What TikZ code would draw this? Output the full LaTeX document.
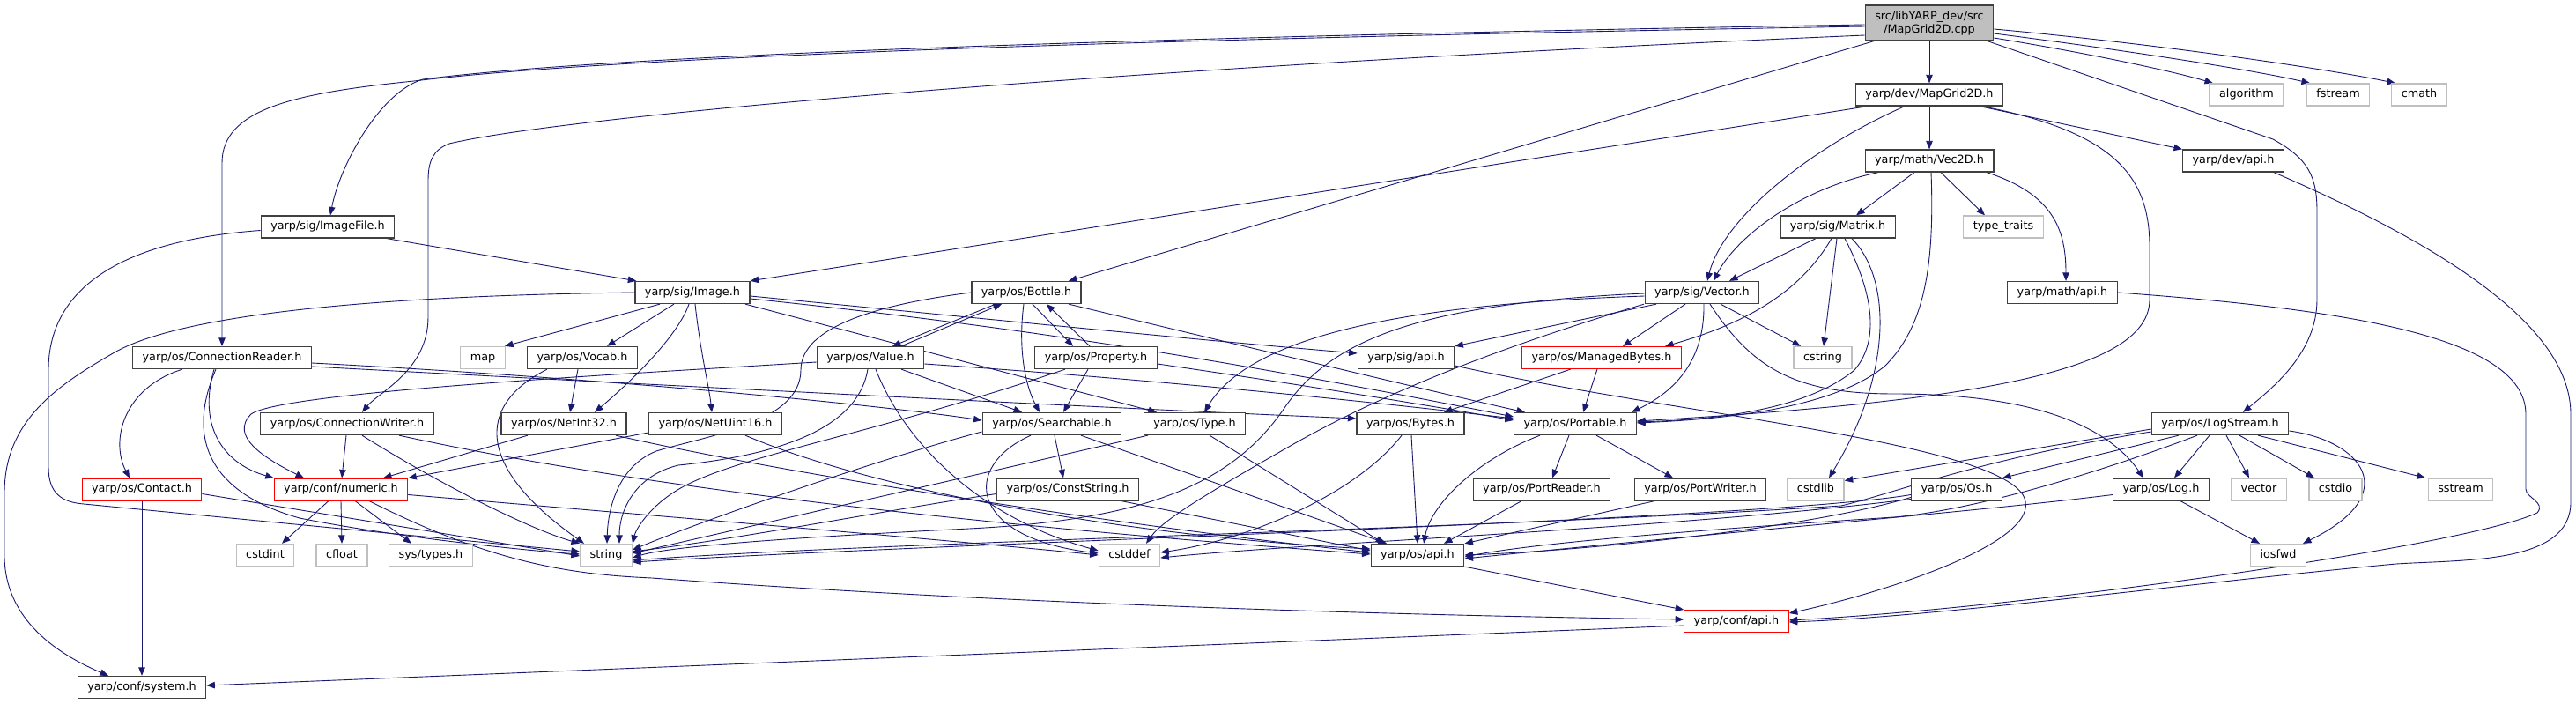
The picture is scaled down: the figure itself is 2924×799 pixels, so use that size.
\documentclass[tikz,border=0pt]{standalone}
\usepackage{fontspec}
\setmainfont{DejaVu Sans}
\usetikzlibrary{arrows.meta}
\definecolor{eblue}{RGB}{25,25,112}
\definecolor{lgray}{RGB}{191,191,191}
\definecolor{dgray}{RGB}{64,64,64}
\pgfdeclarelayer{edges}
\pgfsetlayers{edges,main}
\begin{document}
\begin{tikzpicture}[x=1pt,y=-1pt,
  font=\fontsize{12.8}{15}\selectfont,
  nd/.style={draw=dgray, fill=white, line width=1.3pt, minimum height=25pt, inner xsep=11pt, inner ysep=0pt, text height=9.3pt, text depth=2.9pt, text=black},
  ns/.style={nd, draw=lgray},
  nr/.style={nd, draw=red, line width=1pt},
  e/.style={draw=eblue, line width=0.9pt, -{Triangle[length=9.5pt,width=7.5pt]}}]
\useasboundingbox (0,0) rectangle (2924,799);
% row 0
\node[nd, fill=lgray, align=center, minimum height=40pt, text height=, text depth=, inner ysep=2pt] (root) at (2190,26) {src/libYARP\_dev/src\\/MapGrid2D.cpp};
% row 1
\node[nd] (mapgrid) at (2190,107.5) {yarp/dev/MapGrid2D.h};
\node[ns] (algorithm) at (2550,107.5) {algorithm};
\node[ns] (fstream) at (2654,107.5) {fstream};
\node[ns] (cmath) at (2746,107.5) {cmath};
% row 2
\node[nd] (vec2d) at (2190,182.5) {yarp/math/Vec2D.h};
\node[nd] (devapi) at (2535,182.5) {yarp/dev/api.h};
% row 3
\node[nd] (imagefile) at (372,257.5) {yarp/sig/ImageFile.h};
\node[nd] (matrix) at (2086,257.5) {yarp/sig/Matrix.h};
\node[ns] (typetraits) at (2274,257.5) {type\_traits};
% row 4
\node[nd] (image) at (786,332) {yarp/sig/Image.h};
\node[nd] (bottle) at (1165,332) {yarp/os/Bottle.h};
\node[nd] (vector) at (1932,332) {yarp/sig/Vector.h};
\node[nd] (mathapi) at (2341,332) {yarp/math/api.h};
% row 5
\node[nd] (connreader) at (252,406) {yarp/os/ConnectionReader.h};
\node[ns] (map) at (548,406) {map};
\node[nd] (vocab) at (661,406) {yarp/os/Vocab.h};
\node[nd] (value) at (988,406) {yarp/os/Value.h};
\node[nd] (property) at (1244,406) {yarp/os/Property.h};
\node[nd] (sigapi) at (1596,406) {yarp/sig/api.h};
\node[nr] (managed) at (1818,406) {yarp/os/ManagedBytes.h};
\node[ns] (cstring) at (2069,406) {cstring};
% row 6
\node[nd] (connwriter) at (394,481) {yarp/os/ConnectionWriter.h};
\node[nd] (netint32) at (640,481) {yarp/os/NetInt32.h};
\node[nd] (netuint16) at (812,481) {yarp/os/NetUint16.h};
\node[nd] (searchable) at (1194,481) {yarp/os/Searchable.h};
\node[nd] (type) at (1356,481) {yarp/os/Type.h};
\node[nd] (bytes) at (1601,481) {yarp/os/Bytes.h};
\node[nd] (portable) at (1788,481) {yarp/os/Portable.h};
\node[nd] (logstream) at (2520,481) {yarp/os/LogStream.h};
% row 7
\node[nr] (contact) at (161,555.5) {yarp/os/Contact.h};
\node[nr] (numeric) at (387,555.5) {yarp/conf/numeric.h};
\node[nd] (conststring) at (1212,555.5) {yarp/os/ConstString.h};
\node[nd] (portreader) at (1750,555.5) {yarp/os/PortReader.h};
\node[nd] (portwriter) at (1930,555.5) {yarp/os/PortWriter.h};
\node[ns] (cstdlib) at (2061,555.5) {cstdlib};
\node[nd] (os) at (2221,555.5) {yarp/os/Os.h};
\node[nd] (log) at (2453,555.5) {yarp/os/Log.h};
\node[ns] (vectorstd) at (2564,555.5) {vector};
\node[ns] (cstdio) at (2651,555.5) {cstdio};
\node[ns] (sstream) at (2793,555.5) {sstream};
% row 8
\node[ns] (cstdint) at (301,630) {cstdint};
\node[ns] (cfloat) at (388,630) {cfloat};
\node[ns] (systypes) at (489,630) {sys/types.h};
\node[ns] (string) at (688,630) {string};
\node[ns] (cstddef) at (1282,630) {cstddef};
\node[nd] (osapi) at (1609,630) {yarp/os/api.h};
\node[ns] (iosfwd) at (2586,630) {iosfwd};
% row 9-10
\node[nr] (confapi) at (1971,705) {yarp/conf/api.h};
\node[nd] (system) at (161,780) {yarp/conf/system.h};

\begin{pgfonlayer}{edges}
% root
\draw[e] (root.south) -- (mapgrid.north);
\draw[e] ([yshift=-17]root.east) .. controls (2380,62) and (2470,82) .. ([xshift=-38]algorithm.north);
\draw[e] ([yshift=-12]root.east) .. controls (2420,58) and (2560,80) .. ([xshift=-32]fstream.north);
\draw[e] ([yshift=-7]root.east) .. controls (2450,50) and (2640,78) .. ([xshift=-27]cmath.north);
\draw[e] ([xshift=66]root.south) -- (2580,158) .. controls (2620,180) and (2630,200) .. (2630,240) -- (2630,340) .. controls (2630,400) and (2580,440) .. ([xshift=26]logstream.north);
\draw[e] ([xshift=-63]root.south) -- ([xshift=48]bottle.north);
\draw[e] ([yshift=-2]root.west) .. controls (1300,42) and (700,62) .. (480,90) .. controls (430,105) and (385,190) .. ([xshift=3]imagefile.north);
\draw[e] ([yshift=-4]root.west) .. controls (1300,44) and (700,64) .. (470,92) .. controls (330,106) and (252,125) .. (252,185) -- (connreader.north);
\draw[e] ([yshift=-14]root.west) .. controls (1300,75) and (650,130) .. (510,163) .. controls (492,170) and (486,182) .. (486,205) -- (486,360) .. controls (486,420) and (430,445) .. ([xshift=17]connwriter.north);
% mapgrid
\draw[e] (mapgrid.south) -- (vec2d.north);
\draw[e] ([xshift=-70]mapgrid.south) -- (image.north east);
\draw[e] ([xshift=-28]mapgrid.south) .. controls (2050,170) and (1955,250) .. ([xshift=6]vector.north);
\draw[e] ([xshift=57]mapgrid.south) -- ([xshift=-58]devapi.north);
\draw[e] ([xshift=60]mapgrid.south) .. controls (2400,150) and (2440,200) .. (2440,280) -- (2440,340) .. controls (2440,420) and (2250,455) .. ([yshift=3]portable.east);
% vec2d
\draw[e] ([xshift=-17]vec2d.south) -- ([xshift=21]matrix.north);
\draw[e] ([xshift=-58]vec2d.south) .. controls (2040,215) and (1970,270) .. ([xshift=13]vector.north);
\draw[e] ([xshift=13]vec2d.south) -- ([xshift=-21]typetraits.north);
\draw[e] ([xshift=65]vec2d.south) .. controls (2330,220) and (2345,260) .. ([xshift=4]mathapi.north);
\draw[e] ([xshift=2]vec2d.south) .. controls (2196,300) and (2185,370) .. (2140,415) .. controls (2080,465) and (1950,476) .. ([yshift=1]portable.east);
% api chains
\draw[e] ([xshift=46]devapi.south) .. controls (2800,290) and (2918,380) .. (2918,470) -- (2918,570) .. controls (2918,640) and (2800,635) .. (2720,640) .. controls (2500,660) and (2200,700) .. ([yshift=-1]confapi.east);
\draw[e] (mathapi.east) .. controls (2650,350) and (2867,380) .. (2867,470) -- (2867,555) .. controls (2867,565) and (2890,570) .. (2880,582) .. controls (2800,620) and (2300,690) .. ([yshift=1]confapi.east);
% imagefile
\draw[e] ([xshift=67]imagefile.south) -- ([xshift=2]image.north west);
\draw[e] ([yshift=-4]imagefile.west) .. controls (150,272) and (55,320) .. (55,420) -- (55,530) .. controls (55,560) and (70,570) .. (95,572) -- ([yshift=4]string.west);
% image
\draw[e] (image.west) .. controls (400,336) and (200,360) .. (130,400) .. controls (60,440) and (5,480) .. (5,560) -- (5,630) .. controls (5,700) and (60,740) .. ([xshift=-38]system.north);
\draw[e] ([xshift=-37]image.south) -- ([xshift=25]map.north);
\draw[e] ([xshift=-21]image.south) -- ([xshift=28]vocab.north);
\draw[e] ([xshift=-4]image.south) .. controls (770,380) and (720,430) .. ([xshift=35]netint32.north);
\draw[e] ([xshift=3]image.south) .. controls (795,400) and (805,440) .. ([xshift=-4]netuint16.north);
\draw[e] ([xshift=60]image.south) -- ([xshift=-43]type.north);
\draw[e] ([yshift=-4]image.east) .. controls (1100,360) and (1350,385) .. ([yshift=5]sigapi.west);
\draw[e] ([yshift=-7]image.east) .. controls (1200,375) and (1450,420) .. ([yshift=8]portable.west);
% bottle
\draw[e] ([xshift=-35]bottle.south) -- ([xshift=25]value.north);
\draw[e] ([xshift=35]value.north) -- ([xshift=-28]bottle.south);
\draw[e] ([xshift=7]bottle.south) -- ([xshift=-26]property.north);
\draw[e] ([xshift=-7]property.north) -- ([xshift=23]bottle.south);
\draw[e] ([xshift=-3]bottle.south) .. controls (1155,400) and (1165,440) .. ([xshift=-14]searchable.north);
\draw[e] ([xshift=48]bottle.south) .. controls (1400,390) and (1650,450) .. ([xshift=-57]portable.north);
\draw[e] (bottle.west) .. controls (1000,345) and (909,370) .. (909,420) .. controls (909,480) and (800,495) .. (745,512) .. controls (700,530) and (690,580) .. ([xshift=1]string.north);
% value
\draw[e] ([yshift=-5]value.west) .. controls (700,425) and (320,445) .. (285,470) .. controls (260,495) and (300,520) .. ([xshift=-42]numeric.north);
\draw[e] ([xshift=35]value.south) -- ([xshift=-34]searchable.north);
\draw[e] ([yshift=-7]value.east) .. controls (1300,430) and (1550,455) .. ([yshift=6]portable.west);
\draw[e] ([xshift=-3]value.south) .. controls (975,480) and (900,515) .. (770,528) .. controls (720,540) and (703,580) .. ([xshift=15]string.north);
\draw[e] ([xshift=6]value.south) .. controls (1030,510) and (1120,590) .. ([yshift=5]cstddef.west);
% property
\draw[e] ([xshift=-9]property.south) -- ([xshift=13]searchable.north);
\draw[e] ([xshift=-35]property.south) .. controls (1000,490) and (850,515) .. (780,550) .. controls (740,570) and (722,600) .. (string.north east);
\draw[e] ([yshift=-7]property.east) .. controls (1500,440) and (1620,460) .. ([yshift=4]portable.west);
% searchable
\draw[e] ([xshift=3]searchable.south) -- ([xshift=-5]conststring.north);
\draw[e] ([xshift=-24]searchable.south) .. controls (1090,530) and (1100,610) .. ([yshift=2]cstddef.west);
\draw[e] ([xshift=33]searchable.south) -- ([xshift=-35]osapi.north);
\draw[e] ([yshift=-9]searchable.west) .. controls (1000,520) and (800,590) .. ([yshift=6]string.east);
% conststring
\draw[e] ([xshift=61]conststring.south) -- ([yshift=5]osapi.west);
\draw[e] ([yshift=-5]conststring.west) .. controls (1000,580) and (850,610) .. ([yshift=4]string.east);
% type
\draw[e] ([xshift=-53]type.south) -- ([yshift=2]string.east);
\draw[e] ([xshift=17]type.south) -- ([xshift=-38]osapi.north);
% netint / netuint
\draw[e] ([xshift=-41]netint32.south) -- ([xshift=48]numeric.north);
\draw[e] ([xshift=59]netint32.south) .. controls (900,540) and (1300,600) .. ([yshift=3]osapi.west);
\draw[e] ([yshift=-10]netuint16.west) -- (numeric.north east);
\draw[e] ([xshift=34]netuint16.south) .. controls (1000,560) and (1300,610) .. ([yshift=7]osapi.west);
% vocab
\draw[e] ([xshift=-5]vocab.south) -- ([xshift=7]netint32.north);
\draw[e] ([xshift=-40]vocab.south) .. controls (540,460) and (540,530) .. ([xshift=-25]string.north);
% connreader
\draw[e] ([xshift=-45]connreader.south) .. controls (140,440) and (125,500) .. ([xshift=-14]contact.north);
\draw[e] ([xshift=-9]connreader.south) .. controls (225,480) and (250,525) .. (numeric.north west);
\draw[e] ([xshift=-7]connreader.south) .. controls (210,500) and (240,560) .. (340,588) .. controls (450,610) and (600,625) .. ([yshift=1]string.west);
\draw[e] ([yshift=-6]connreader.east) .. controls (700,430) and (1000,460) .. ([yshift=4]searchable.west);
\draw[e] ([yshift=-10]connreader.east) .. controls (800,440) and (1300,465) .. ([yshift=6]bytes.west);
% connwriter
\draw[e] ([xshift=-1]connwriter.south) -- ([xshift=1]numeric.north);
\draw[e] ([xshift=17]connwriter.south) .. controls (500,550) and (600,600) .. (string.north west);
\draw[e] ([xshift=59]connwriter.south) .. controls (800,570) and (1300,610) .. ([yshift=1]osapi.west);
% contact
\draw[e] (contact.south) -- (system.north);
\draw[e] ([yshift=-5]contact.east) -- ([yshift=-1]string.west);
% numeric
\draw[e] ([xshift=-14]numeric.south) -- ([xshift=19]cstdint.north);
\draw[e] (numeric.south) -- (cfloat.north);
\draw[e] ([xshift=16]numeric.south) -- ([xshift=-22]systypes.north);
\draw[e] ([yshift=-6]numeric.east) .. controls (800,590) and (1100,615) .. ([yshift=0]cstddef.west);
\draw[e] ([xshift=32]numeric.south) .. controls (560,640) and (650,652) .. (740,656) .. controls (1200,690) and (1700,700) .. ([yshift=2]confapi.west);
% sigapi
\draw[e] ([yshift=-9]sigapi.east) .. controls (1900,470) and (2250,500) .. (2295,560) .. controls (2330,610) and (2150,670) .. ([yshift=9]confapi.east);
% managed, bytes, portable
\draw[e] ([xshift=-35]managed.south) -- ([xshift=38]bytes.north);
\draw[e] ([xshift=-5]managed.south) -- ([xshift=9]portable.north);
\draw[e] ([xshift=-10]bytes.south) .. controls (1540,560) and (1420,612) .. ([yshift=3]cstddef.east);
\draw[e] ([xshift=1]bytes.south) -- (osapi.north);
\draw[e] ([xshift=-40]portable.south) .. controls (1680,520) and (1625,570) .. ([xshift=7]osapi.north);
\draw[e] ([xshift=-7]portable.south) -- ([xshift=12]portreader.north);
\draw[e] ([xshift=24]portable.south) -- ([xshift=-31]portwriter.north);
\draw[e] ([xshift=-23]portreader.south) -- ([xshift=30]osapi.north);
\draw[e] ([xshift=-52]portwriter.south) -- (osapi.north east);
\draw[e] (osapi.south east) -- (confapi.north west);
\draw[e] ([yshift=-5]confapi.west) -- ([yshift=2]system.east);
% matrix
\draw[e] ([xshift=-25]matrix.south) -- ([xshift=31]vector.north);
\draw[e] ([xshift=-7]matrix.south) .. controls (2050,320) and (2000,362) .. ([xshift=72]managed.north);
\draw[e] ([xshift=-1]matrix.south) -- ([xshift=1]cstring.north);
\draw[e] ([xshift=8]matrix.south) .. controls (2125,330) and (2135,385) .. (2105,420) .. controls (2050,465) and (1950,476) .. ([yshift=2]portable.east);
\draw[e] ([xshift=16]matrix.south) .. controls (2150,320) and (2145,430) .. ([xshift=15]cstdlib.north);
% vector
\draw[e] ([xshift=-52]vector.south) -- (sigapi.north east);
\draw[e] ([yshift=-4]vector.west) .. controls (1600,345) and (1420,380) .. ([xshift=11]type.north);
\draw[e] ([yshift=-1]vector.west) .. controls (1600,345) and (1510,390) .. (1460,460) .. controls (1400,550) and (1300,590) .. (1100,600) .. controls (900,610) and (760,620) .. ([yshift=-3]string.east);
\draw[e] ([xshift=-66]vector.south) .. controls (1750,380) and (1600,430) .. (1470,503) .. controls (1370,560) and (1320,590) .. ([xshift=19]cstddef.north);
\draw[e] ([xshift=-19]vector.south) -- ([xshift=24]managed.north);
\draw[e] ([xshift=2]vector.south) .. controls (1935,400) and (1910,440) .. ([xshift=64]portable.north);
\draw[e] ([xshift=9]vector.south) .. controls (1990,420) and (2040,447) .. (2150,447) .. controls (2300,447) and (2390,480) .. ([xshift=-20]log.north);
\draw[e] ([xshift=21]vector.south) -- ([xshift=-25]cstring.north);
% logstream
\draw[e] ([xshift=-12]logstream.south) -- ([xshift=15]log.north);
\draw[e] ([xshift=7]logstream.south) -- ([xshift=-11]vectorstd.north);
\draw[e] ([xshift=22]logstream.south) -- ([xshift=-24]cstdio.north);
\draw[e] ([xshift=43]logstream.south) -- ([xshift=-40]sstream.north);
\draw[e] ([yshift=-8]logstream.east) .. controls (2680,500) and (2730,560) .. ([xshift=28]iosfwd.north);
\draw[e] ([xshift=-47]logstream.south) -- (os.north east);
\draw[e] ([yshift=-6]logstream.west) -- ([yshift=10]cstdlib.east);
\draw[e] ([yshift=-9]logstream.west) .. controls (2250,520) and (2150,560) .. (2090,574) .. controls (1700,600) and (1000,615) .. ([yshift=-6]string.east);
\draw[e] ([xshift=-26]logstream.south) .. controls (2400,530) and (2250,578) .. (2150,587) .. controls (1950,600) and (1750,615) .. ([yshift=-2]osapi.east);
% log, os
\draw[e] ([xshift=22]log.south) -- ([xshift=-21]iosfwd.north);
\draw[e] ([yshift=-6]log.west) .. controls (2250,580) and (2000,600) .. ([yshift=-4]osapi.east);
\draw[e] ([yshift=-6]os.west) .. controls (2000,590) and (1100,615) .. ([yshift=-8]string.east);
\draw[e] ([yshift=-9]os.west) .. controls (2050,600) and (1800,625) .. ([yshift=0]osapi.east);
\draw[e] ([yshift=-11]os.west) .. controls (1900,600) and (1500,615) .. ([yshift=-3]cstddef.east);
\end{pgfonlayer}
\end{tikzpicture}
\end{document}
